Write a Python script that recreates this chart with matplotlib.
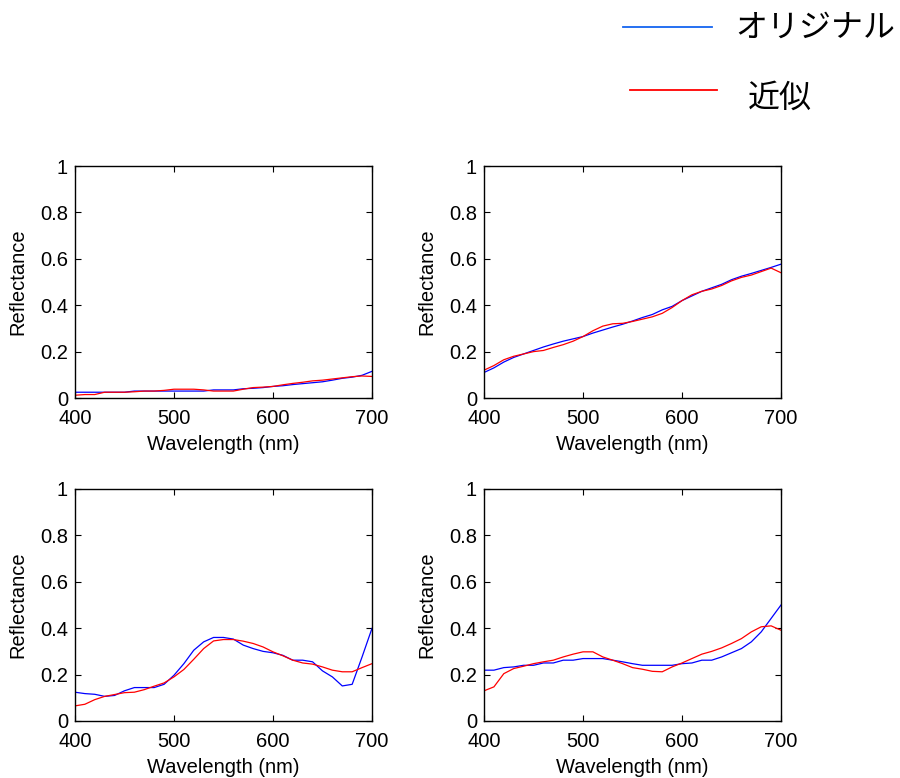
import numpy as np
import matplotlib
matplotlib.use("Agg")
import matplotlib.pyplot as plt
from matplotlib.lines import Line2D

plt.rcParams['font.family'] = ['Liberation Sans', 'Noto Sans CJK JP', 'DejaVu Sans']

wl = np.arange(400, 701, 10)

# panel 1 (top left)
orig1 = [.025, .025, .025, .025, .025, .025, .03, .03, .03, .03, .03, .03, .03, .03, .035, .035,
         .035, .04, .042, .045, .05, .053, .058, .062, .066, .07, .077, .085, .09, .098, .115]
appr1 = [.012, .015, .015, .025, .025, .025, .027, .03, .03, .033, .038, .038, .038, .035, .03, .03,
         .03, .038, .045, .047, .05, .057, .063, .068, .074, .077, .082, .087, .092, .095, .093]

# panel 2 (top right)
orig2 = [.11, .13, .155, .175, .19, .205, .22, .233, .245, .255, .265, .28, .293, .306, .318, .332,
         .347, .36, .38, .395, .42, .44, .46, .475, .49, .51, .525, .537, .55, .563, .577]
appr2 = [.12, .14, .165, .18, .19, .2, .205, .218, .23, .245, .265, .29, .31, .32, .322, .33,
         .34, .35, .365, .39, .42, .445, .46, .47, .485, .505, .52, .53, .545, .56, .54]

# panel 3 (bottom left)
orig3 = [.124, .118, .115, .106, .11, .13, .144, .144, .144, .158, .197, .247, .305, .341, .36, .36,
         .353, .327, .312, .3, .294, .283, .262, .262, .255, .216, .19, .151, .158, .276, .399]
appr3 = [.065, .072, .092, .106, .114, .122, .124, .135, .15, .164, .19, .222, .266, .312, .345, .351,
         .351, .344, .334, .319, .298, .281, .262, .25, .245, .233, .219, .212, .212, .23, .247]

# panel 4 (bottom right)
orig4 = [.219, .219, .23, .233, .24, .24, .25, .25, .262, .262, .269, .269, .269, .262, .255, .247,
         .24, .24, .24, .24, .247, .25, .262, .262, .276, .294, .312, .341, .384, .442, .5]
appr4 = [.13, .147, .204, .226, .236, .247, .255, .262, .276, .288, .298, .298, .276, .262, .247, .23,
         .223, .214, .212, .233, .25, .269, .288, .3, .315, .334, .355, .384, .406, .41, .391]

panels = [(orig1, appr1), (orig2, appr2), (orig3, appr3), (orig4, appr4)]
boxes = [[0.0833, 0.4884, 0.33, 0.2982], [0.5378, 0.4884, 0.33, 0.2982],
         [0.0833, 0.0733, 0.33, 0.2982], [0.5378, 0.0733, 0.33, 0.2982]]

fs = 14.5
fig = plt.figure(figsize=(9, 7.78), dpi=100)
for (orig, appr), box in zip(panels, boxes):
    ax = fig.add_axes(box)
    ax.plot(wl, orig, color='blue', lw=0.9)
    ax.plot(wl, appr, color='red', lw=0.9)
    ax.set_xlim(400, 700)
    ax.set_ylim(0, 1)
    ax.set_xticks([400, 500, 600, 700])
    ax.set_yticks([0, 0.2, 0.4, 0.6, 0.8, 1])
    ax.set_yticklabels(['0', '0.2', '0.4', '0.6', '0.8', '1'])
    ax.tick_params(top=True, right=True, direction='in', length=4, width=0.8,
                   labelsize=fs)
    ax.tick_params(axis='x', pad=8)
    ax.tick_params(axis='y', pad=5)
    for s in ax.spines.values():
        s.set_linewidth(1.0)
    ax.set_xlabel("Wavelength (nm)", fontsize=fs, labelpad=5)
    ax.set_ylabel("Reflectance", fontsize=fs, labelpad=9)

# legend at the top right
fig.add_artist(Line2D([623/900, 712/900], [1 - 27/778, 1 - 27/778],
                      transform=fig.transFigure, color='#1464F0', lw=1.3))
fig.add_artist(Line2D([630/900, 717/900], [1 - 90/778, 1 - 90/778],
                      transform=fig.transFigure, color='red', lw=1.3))
fig.text(735/900, 1 - 28/778, "オリジナル", fontsize=23, va='center', ha='left',
         family=['Noto Sans CJK JP', 'DejaVu Sans'])
fig.text(748/900, 1 - 98/778, "近似", fontsize=23, va='center', ha='left',
         family=['Noto Sans CJK JP', 'DejaVu Sans'])

plt.savefig("out.png", dpi=100)
